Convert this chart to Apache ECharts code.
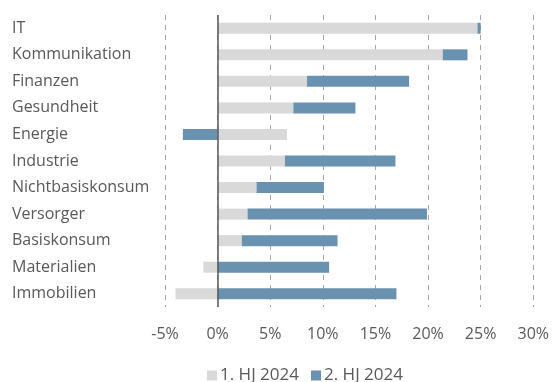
<!DOCTYPE html>
<html><head><meta charset="utf-8">
<script src="https://cdn.jsdelivr.net/npm/echarts@6/dist/echarts.min.js"></script>
<style>html,body{margin:0;padding:0;background:#fff}#c{width:552px;height:382px}</style>
</head><body><div id="c"></div>
<script>
const categories = ["IT","Kommunikation","Finanzen","Gesundheit","Energie","Industrie","Nichtbasiskonsum","Versorger","Basiskonsum","Materialien","Immobilien"];
const h1Values = [24.7, 21.4, 8.5, 7.2, 6.6, 6.4, 3.7, 2.85, 2.3, -1.35, -4.0];
const h2Values = [0.3, 2.35, 9.7, 5.9, -3.3, 10.5, 6.4, 17.05, 9.1, 10.6, 17.0];
const seriesNames = ["1. HJ 2024", "2. HJ 2024"];
const xTicks = {min: -5, max: 30, interval: 5};

const chart = echarts.init(document.getElementById('c'));
const txt = '#595959';
const font = '"Open Sans", "Noto Sans", sans-serif';
chart.setOption({
  animation: false,
  grid: {left: 165, right: 18, top: 15, bottom: 75, containLabel: false},
  legend: {
    top: 362, left: 202, itemWidth: 10, itemHeight: 10, itemGap: 12,
    icon: 'rect',
    textStyle: {color: txt, fontSize: 17, fontFamily: font, padding: [0, 0, 0, -2]},
    data: seriesNames
  },
  xAxis: {
    type: 'value', min: xTicks.min, max: xTicks.max, interval: xTicks.interval,
    axisLine: {show: false}, axisTick: {show: false},
    axisLabel: {formatter: '{value}%', color: txt, fontSize: 16, fontFamily: font, margin: 19},
    splitLine: {show: true, lineStyle: {color: '#a6a6a6', type: [5, 5], width: 1}}
  },
  yAxis: {
    type: 'category', data: categories, inverse: true,
    axisLine: {show: false}, axisTick: {show: false},
    axisLabel: {align: 'left', margin: 153, color: txt, fontSize: 16, fontFamily: font}
  },
  series: [
    {name: seriesNames[0], type: 'bar', stack: 's', data: h1Values, barWidth: 11,
     itemStyle: {color: '#d9d9d9'},
     markLine: {silent: true, symbol: 'none', label: {show: false},
       lineStyle: {color: '#595959', type: 'solid', width: 1.5}, data: [{xAxis: 0}]}},
    {name: seriesNames[1], type: 'bar', stack: 's', data: h2Values, barWidth: 11,
     itemStyle: {color: '#6892b0'}}
  ]
});
</script></body></html>
